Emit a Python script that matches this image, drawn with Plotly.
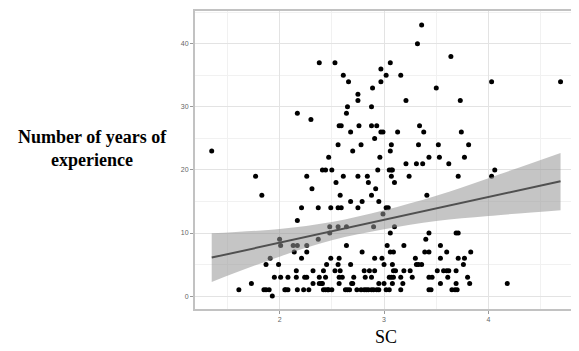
import plotly.graph_objects as go

# ---- scatter data (SC, years of experience) ----
pts = {
    43: [3.36],
    40: [3.32],
    38: [3.64],
    37: [2.38, 2.53, 3.06],
    36: [2.97],
    35: [2.61, 3.02, 3.16],
    34: [2.66, 2.97, 4.03, 4.69],
    33: [2.89, 3.50],
    32: [2.75],
    31: [2.75, 3.21, 3.73],
    30: [2.65, 2.88],
    29: [2.17, 2.64],
    28: [2.30],
    27: [2.57, 2.59, 2.76, 2.88, 2.93, 3.34],
    26: [2.68, 2.97, 2.99, 3.13, 3.38, 3.74],
    25: [2.91],
    24: [2.56, 2.78, 3.07, 3.33, 3.52, 3.81],
    23: [1.35, 2.70, 3.06],
    22: [2.47, 2.96, 3.43, 3.53, 3.77],
    21: [3.21, 3.31, 3.37, 3.62],
    20: [2.41, 2.44, 2.50, 2.94, 3.05, 3.07, 3.08, 4.06],
    19: [1.77, 2.26, 2.61, 2.75, 2.84, 3.07, 3.24, 3.71, 4.03],
    18: [2.54, 2.85, 3.10],
    17: [2.31, 2.92],
    16: [1.83, 2.58, 2.88, 3.41],
    15: [2.68, 2.79, 2.95],
    14: [2.21, 2.37, 2.49, 2.56, 2.59, 2.75, 3.02, 3.04],
    13: [2.99],
    12: [2.17],
    11: [2.48, 2.56, 2.64, 2.90, 3.10],
    10: [2.48, 3.06, 3.43, 3.69, 3.71],
    9: [2.00, 2.37, 3.40],
    8: [2.01, 2.13, 2.17, 2.26, 2.64, 3.03, 3.19, 3.54],
    7: [2.14, 2.26, 2.79, 3.06, 3.09, 3.39, 3.43, 3.60, 3.83],
    6: [1.91, 2.21, 2.49, 2.57, 2.91, 2.98, 3.30, 3.54, 3.71, 3.77],
    5: [1.87, 1.99, 2.45, 2.56, 2.68, 3.00, 3.08, 3.31, 3.33, 3.36, 3.76],
    4: [2.16, 2.32, 2.42, 2.53, 2.58, 2.81, 2.86, 2.91, 3.09, 3.11, 3.19,
        3.25, 3.51, 3.57, 3.60, 3.62, 3.69],
    3: [1.95, 2.01, 2.08, 2.16, 2.24, 2.26, 2.38, 2.44, 2.57, 2.60, 2.71,
        2.82, 2.88, 3.05, 3.07, 3.09, 3.16, 3.27, 3.43, 3.46, 3.61, 3.80],
    2: [1.73, 2.32, 2.38, 2.40, 2.41, 2.57, 2.69, 2.70, 2.95, 3.00, 3.08,
        3.18, 3.54, 3.69, 3.82, 4.18],
    1: [1.61, 1.85, 1.87, 1.90, 2.05, 2.06, 2.08, 2.17, 2.23, 2.28, 2.42,
        2.44, 2.46, 2.47, 2.50, 2.63, 2.65, 2.67, 2.74, 2.78, 2.81, 2.83,
        2.85, 2.88, 2.90, 2.93, 2.95, 3.02, 3.05, 3.16, 3.43, 3.45, 3.65,
        3.68, 3.70],
    0: [1.93],
}
sc_values = [x for yv, xs in pts.items() for x in xs]
years_values = [yv for yv, xs in pts.items() for x in xs]

# ---- linear fit and confidence band ----
fit_x = [1.35, 2.0, 2.5, 3.0, 3.5, 4.0, 4.69]
fit_y = [6.1, 8.45, 10.3, 12.1, 13.9, 15.7, 18.2]
band_lo = [2.25, 6.25, 8.85, 10.6, 11.9, 12.7, 13.6]
band_hi = [9.95, 10.65, 11.75, 13.6, 15.9, 18.7, 22.7]

x_ticks = [2, 3, 4]
y_ticks = [0, 10, 20, 30, 40]

fig = go.Figure()
fig.add_trace(go.Scatter(
    x=sc_values, y=years_values, mode="markers",
    marker=dict(color="black", size=5), hoverinfo="skip", showlegend=False))
fig.add_trace(go.Scatter(
    x=fit_x, y=band_lo, mode="lines", line=dict(width=0, shape="spline"),
    hoverinfo="skip", showlegend=False))
fig.add_trace(go.Scatter(
    x=fit_x, y=band_hi, mode="lines", line=dict(width=0, shape="spline"),
    fill="tonexty", fillcolor="rgba(150,150,150,0.55)",
    hoverinfo="skip", showlegend=False))
fig.add_trace(go.Scatter(
    x=fit_x, y=fit_y, mode="lines", line=dict(color="#505050", width=2),
    hoverinfo="skip", showlegend=False))

axis_common = dict(
    showline=True, mirror=True, linecolor="#c2c2c2", linewidth=2,
    showgrid=True, gridcolor="#e3e3e3", gridwidth=1, zeroline=False,
    ticks="outside", ticklen=3, tickcolor="#9a9a9a", tickwidth=1,
    tickfont=dict(family="Liberation Sans", size=7, color="#666666"),
)
fig.update_xaxes(range=[1.19, 4.838], tickvals=x_ticks,
                 minor=dict(dtick=0.5, tick0=1.5, showgrid=True,
                            gridcolor="#f1f1f1"),
                 **axis_common)
fig.update_yaxes(range=[-2.05, 45.2], tickvals=y_ticks,
                 minor=dict(dtick=10, tick0=5, showgrid=True,
                            gridcolor="#f1f1f1"),
                 **axis_common)

fig.add_annotation(text="<b>Number of years of<br>experience</b>",
                   xref="paper", yref="paper", x=-0.268, y=0.538,
                   xanchor="center", yanchor="middle", showarrow=False,
                   font=dict(family="Liberation Serif", size=18, color="black"))
fig.add_annotation(text="SC", xref="paper", yref="paper",
                   x=0.502, y=-0.093, xanchor="center", yanchor="middle",
                   showarrow=False,
                   font=dict(family="Liberation Serif", size=18, color="black"))

# page body has an 8px margin, so the figure is sized/margined to compensate
fig.update_layout(
    width=571, height=343,
    margin=dict(l=187, r=1, t=1, b=42),
    paper_bgcolor="white", plot_bgcolor="white",
    showlegend=False,
)
fig.write_html("out.html")
